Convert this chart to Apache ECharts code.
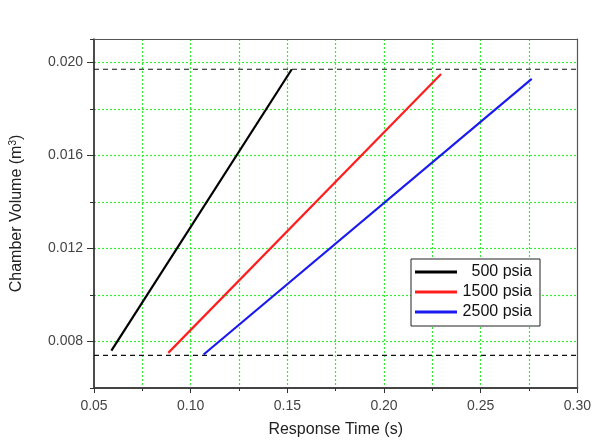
<!DOCTYPE html>
<html><head><meta charset="utf-8">
<script src="https://cdn.jsdelivr.net/npm/echarts@6/dist/echarts.min.js"></script>
<style>html,body{margin:0;padding:0;background:#fff}#c{width:594px;height:443px}</style>
</head><body><div id="c"></div>
<script>
var seriesNames = ['500 psia', '1500 psia', '2500 psia'];
var colors = ['#000000', '#ff1e1e', '#1a1aee'];
var line500 = [[0.0590, 0.00761], [0.1523, 0.01970]];
var line1500 = [[0.0884, 0.00751], [0.2295, 0.01950]];
var line2500 = [[0.1067, 0.00744], [0.2764, 0.01929]];
var refUpper = [[0.05, 0.01970], [0.30, 0.01970]];
var refLower = [[0.05, 0.00740], [0.30, 0.00740]];
var yLabelValues = [0.008, 0.012, 0.016, 0.020];

var chart = echarts.init(document.getElementById('c'));
var font = 'Liberation Sans, Arial, sans-serif';
var green = '#33ee33';
var dataSets = [line500, line1500, line2500];
var series = dataSets.map(function (d, i) {
  return { name: seriesNames[i], type: 'line', data: d, showSymbol: false, symbol: 'none',
    lineStyle: { color: colors[i], width: 2.2 }, itemStyle: { color: colors[i] }, z: 5, animation: false };
});
[refUpper, refLower].forEach(function (d) {
  series.push({ type: 'line', data: d, symbol: 'none', lineStyle: { color: '#111', width: 1.2, type: [5, 4] }, z: 4, animation: false, silent: true });
});
var borderAxis = { z: 6, axisLine: { show: true, lineStyle: { color: '#555', width: 1.2 } }, axisTick: { show: false }, axisLabel: { show: false }, splitLine: { show: false } };
var gridLine = { show: true, showMinLine: false, showMaxLine: false, lineStyle: { color: green, type: [2, 2], width: 1.2 } };
chart.setOption({
  animation: false,
  grid: { left: 93, right: 16, top: 39, bottom: 50, show: false },
  legend: {
    data: seriesNames, left: 411, top: 259, orient: 'vertical', itemWidth: 42, itemHeight: 3, itemGap: 4,
    icon: 'rect', backgroundColor: '#fff', borderColor: '#222', borderWidth: 1, padding: [5, 8, 6, 4],
    formatter: function (n) { return '{r|' + n + '}'; },
    textStyle: { fontFamily: font, fontSize: 16, lineHeight: 16, color: '#111',
      rich: { r: { fontFamily: font, fontSize: 16, lineHeight: 16, color: '#111', width: 70, align: 'right' } } }
  },
  xAxis: [{
    type: 'value', min: 0.05, max: 0.30, interval: 0.05,
    name: 'Response Time (s)', nameLocation: 'middle', nameGap: 34,
    nameTextStyle: { fontFamily: font, fontSize: 16, color: '#222' },
    axisLine: { show: true, lineStyle: { color: '#444', width: 2 } },
    axisTick: { show: true, inside: false, length: 5, lineStyle: { color: '#333' } },
    minorTick: { show: true, splitNumber: 2, length: 3, lineStyle: { color: '#333' } },
    axisLabel: { fontFamily: font, fontSize: 14, color: '#444', margin: 11, formatter: function (v) { return v.toFixed(2); } },
    splitLine: gridLine,
    minorSplitLine: { show: true, lineStyle: { color: green, type: [2, 2], width: 1.2 } }
  }, Object.assign({ type: 'value', min: 0.05, max: 0.30, position: 'top' }, borderAxis)],
  yAxis: [{
    type: 'value', min: 0.006, max: 0.021, interval: 0.002,
    name: '{a|Chamber Volume (m}{s|3}{a|)}', nameLocation: 'middle', nameGap: 68,
    nameTextStyle: { rich: { a: { fontFamily: font, fontSize: 16, color: '#222' }, s: { fontFamily: font, fontSize: 10, color: '#222', verticalAlign: 'top', padding: [0, 0, 8, 0] } } },
    axisLine: { show: true, lineStyle: { color: '#111', width: 1.5 } },
    axisTick: { show: true, inside: false, length: 4, lineStyle: { color: '#333' } },
    axisLabel: { show: false },
    splitLine: gridLine
  }, {
    type: 'value', min: 0.006, max: 0.021, position: 'left', offset: 0,
    axisLine: { show: false },
    axisTick: { show: true, inside: false, length: 7, customValues: yLabelValues, lineStyle: { color: '#333' } },
    axisLabel: { fontFamily: font, fontSize: 14, color: '#444', margin: 11, customValues: yLabelValues, formatter: function (v) { return v.toFixed(3); } },
    splitLine: { show: false }
  }, Object.assign({ type: 'value', min: 0.006, max: 0.021, position: 'right', offset: 0 }, borderAxis)],
  series: series
});
</script></body></html>
